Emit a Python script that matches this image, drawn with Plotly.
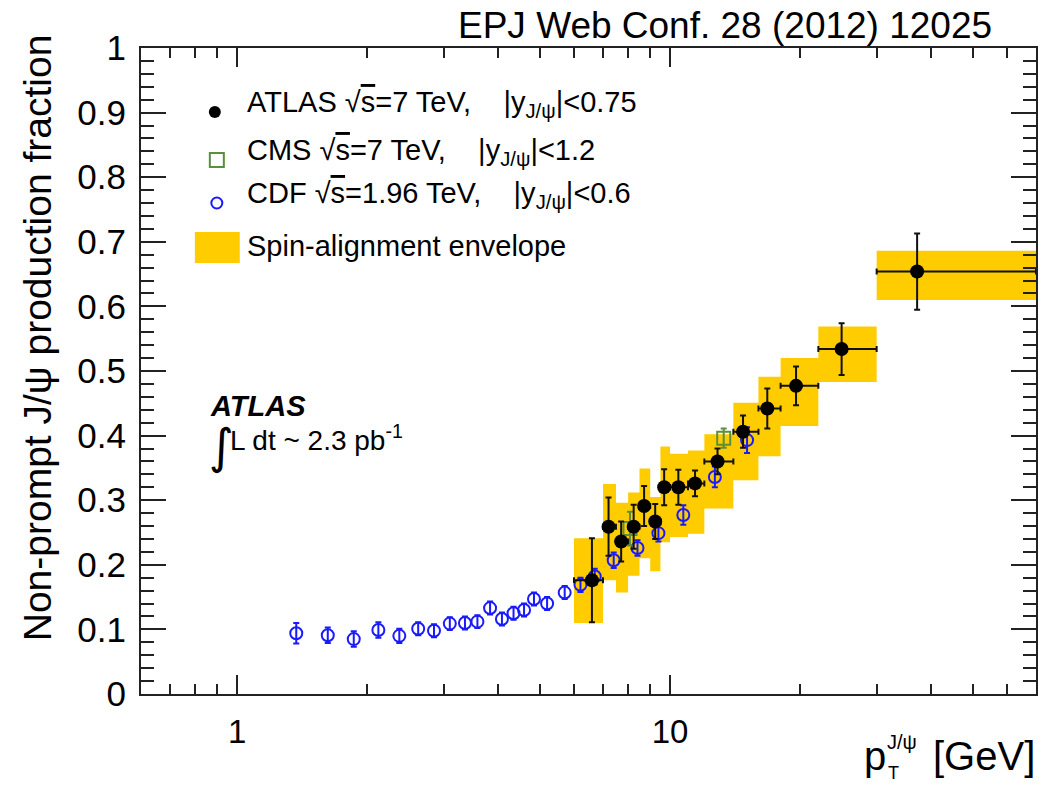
import numpy as np
import plotly.graph_objects as go

# ---------------- data ----------------
atlas_pt = [6.60, 7.21, 7.71, 8.24, 8.71, 9.24, 9.69, 10.45, 11.42, 12.87, 14.74, 16.77, 19.54, 24.9, 37.2]
atlas_bin_lo = [6, 7, 7.5, 8, 8.5, 9, 9.5, 10, 11, 12, 14, 16, 18, 22, 30]
atlas_bin_hi = [7, 7.5, 8, 8.5, 9, 9.5, 10, 11, 12, 14, 16, 18, 22, 30, 70]
atlas_frac = [0.176, 0.259, 0.236, 0.259, 0.291, 0.267, 0.320, 0.320, 0.326, 0.360, 0.406, 0.442, 0.477, 0.534, 0.654]
atlas_err = [0.065, 0.045, 0.031, 0.034, 0.031, 0.027, 0.028, 0.027, 0.020, 0.020, 0.025, 0.031, 0.030, 0.040, 0.059]
env_lo = [0.110, 0.176, 0.157, 0.183, 0.210, 0.190, 0.235, 0.243, 0.248, 0.287, 0.331, 0.368, 0.415, 0.483, 0.610]
env_hi = [0.241, 0.325, 0.296, 0.312, 0.349, 0.305, 0.383, 0.372, 0.377, 0.402, 0.451, 0.491, 0.520, 0.569, 0.686]

cms_pt = [8.08, 13.3]
cms_frac = [0.256, 0.396]
cms_err = [0.026, 0.015]

cdf_pt = [1.37, 1.62, 1.86, 2.12, 2.37, 2.62, 2.85, 3.10, 3.36, 3.59, 3.84, 4.09, 4.35, 4.60, 4.85,
          5.20, 5.71, 6.21, 6.70, 7.41, 8.41, 9.40, 10.73, 12.69, 15.06]
cdf_frac = [0.094, 0.091, 0.085, 0.099, 0.090, 0.101, 0.098, 0.109, 0.110, 0.112, 0.133, 0.116, 0.125,
            0.130, 0.147, 0.140, 0.157, 0.169, 0.182, 0.207, 0.226, 0.249, 0.277, 0.336, 0.393]
cdf_err = [0.016, 0.012, 0.012, 0.012, 0.011, 0.010, 0.010, 0.010, 0.010, 0.010, 0.010, 0.010, 0.010,
           0.010, 0.010, 0.010, 0.010, 0.011, 0.012, 0.012, 0.012, 0.013, 0.015, 0.016, 0.020]

x_major = [1, 10]
x_major_text = ["1", "10"]
x_minor = [0.7, 0.8, 0.9, 2, 3, 4, 5, 6, 7, 8, 9, 20, 30, 40, 50, 60]

# ---------------- layout geometry ----------------
W, H = 1047, 787
L, R, T, B = 141, 1038, 48, 694
FONT = "Liberation Sans, Arial, Helvetica, sans-serif"


def px(xp):
    return (xp - L) / (R - L)


def py(yp):
    return (B - yp) / (B - T)


YELLOW = "#FFCC00"
BLUE = "#1a1aff"
GREEN = "#5b8f3c"

fig = go.Figure()

# spin-alignment envelope boxes
ex, ey = [], []
for lo, hi, a, b in zip(atlas_bin_lo, atlas_bin_hi, env_lo, env_hi):
    ex += [lo, hi, hi, lo, lo, None]
    ey += [a, a, b, b, a, None]
fig.add_trace(go.Scatter(x=ex, y=ey, mode="lines", fill="toself", fillcolor=YELLOW,
                         line=dict(width=0, color=YELLOW), hoverinfo="skip", showlegend=False))

# CDF
fig.add_trace(go.Scatter(
    x=cdf_pt, y=cdf_frac, mode="markers",
    marker=dict(symbol="circle-open", size=12, color=BLUE, line=dict(width=2, color=BLUE)),
    error_y=dict(type="data", array=cdf_err, color=BLUE, thickness=2, width=3),
    showlegend=False))

# CMS
fig.add_trace(go.Scatter(
    x=cms_pt, y=cms_frac, mode="markers",
    marker=dict(symbol="square-open", size=13, color=GREEN, line=dict(width=2, color=GREEN)),
    error_y=dict(type="data", array=cms_err, color=GREEN, thickness=2, width=3),
    showlegend=False))

# ATLAS
xerr_plus = [h - p for h, p in zip(atlas_bin_hi, atlas_pt)]
xerr_minus = [p - l for l, p in zip(atlas_bin_lo, atlas_pt)]
fig.add_trace(go.Scatter(
    x=atlas_pt, y=atlas_frac, mode="markers",
    marker=dict(symbol="circle", size=14, color="black"),
    error_y=dict(type="data", array=atlas_err, color="#111", thickness=2, width=3),
    error_x=dict(type="data", array=xerr_plus, arrayminus=xerr_minus, color="#111", thickness=2, width=3),
    showlegend=False))

# legend markers on an overlay axis (0..1 paper-like)
leg_x = [px(215), px(217), px(217)]
leg_y = [py(112), py(160), py(203)]
fig.add_trace(go.Scatter(x=[leg_x[0]], y=[leg_y[0]], xaxis="x2", yaxis="y2", mode="markers",
                         marker=dict(symbol="circle", size=12, color="black"), showlegend=False))
fig.add_trace(go.Scatter(x=[leg_x[1]], y=[leg_y[1]], xaxis="x2", yaxis="y2", mode="markers",
                         marker=dict(symbol="square-open", size=14, color=GREEN, line=dict(width=2, color=GREEN)),
                         showlegend=False))
fig.add_trace(go.Scatter(x=[leg_x[2]], y=[leg_y[2]], xaxis="x2", yaxis="y2", mode="markers",
                         marker=dict(symbol="circle-open", size=11, color=BLUE, line=dict(width=2, color=BLUE)),
                         showlegend=False))

shapes = [dict(type="rect", xref="paper", yref="paper", x0=px(195), x1=px(240), y0=py(263), y1=py(232),
               fillcolor=YELLOW, line=dict(width=0), layer="above")]

NB = "\u00a0"
sq = "\u221a<span style='text-decoration:overline'>s</span>"
leg_font = dict(family=FONT, size=29, color="black")
ann = []
leg_rows = [
    (f"ATLAS {sq}=7 TeV,{NB}{NB}{NB} |y<sub>J/\u03c8</sub>|&lt;0.75", 104),
    (f"CMS {sq}=7 TeV,{NB}{NB}{NB} |y<sub>J/\u03c8</sub>|&lt;1.2", 152),
    (f"CDF {sq}=1.96 TeV,{NB}{NB}{NB} |y<sub>J/\u03c8</sub>|&lt;0.6", 195),
    ("Spin-alignment envelope", 246),
]
for txt, yc in leg_rows:
    ann.append(dict(text=txt, xref="paper", yref="paper", x=px(245), y=py(yc), xanchor="left",
                    yanchor="middle", showarrow=False, font=leg_font))

# ATLAS label
ann.append(dict(text="<b><i>ATLAS</i></b>", xref="paper", yref="paper", x=px(208), y=py(406),
                xanchor="left", yanchor="middle", showarrow=False, font=dict(family=FONT, size=29, color="black")))
ann.append(dict(text="\u222b", xref="paper", yref="paper", x=px(207), y=py(446),
                xanchor="left", yanchor="middle", showarrow=False, font=dict(family="DejaVu Sans", size=48, color="black")))
ann.append(dict(text="L dt ~ 2.3 pb<sup>-1</sup>", xref="paper", yref="paper", x=px(228), y=py(438),
                xanchor="left", yanchor="middle", showarrow=False, font=dict(family=FONT, size=28, color="black")))

# top reference text
ann.append(dict(text="EPJ Web Conf. 28 (2012) 12025", xref="paper", yref="paper", x=px(996), y=py(25),
                xanchor="right", yanchor="middle", showarrow=False, font=dict(family=FONT, size=37, color="black")))

# y title
ann.append(dict(text="Non-prompt J/\u03c8 production fraction", xref="paper", yref="paper",
                x=px(37), y=py(338), xanchor="center", yanchor="middle", textangle=-90, showarrow=False,
                font=dict(family=FONT, size=39, color="black")))

# x title: p_T^{J/psi} [GeV]
ann.append(dict(text="p", xref="paper", yref="paper", x=px(890), y=py(756), xanchor="right", yanchor="middle",
                showarrow=False, font=dict(family=FONT, size=40, color="black")))
ann.append(dict(text="J/\u03c8", xref="paper", yref="paper", x=px(887), y=py(742), xanchor="left", yanchor="middle",
                showarrow=False, font=dict(family=FONT, size=20, color="black")))
ann.append(dict(text="T", xref="paper", yref="paper", x=px(888), y=py(773), xanchor="left", yanchor="middle",
                showarrow=False, font=dict(family=FONT, size=18, color="black")))
ann.append(dict(text="[GeV]", xref="paper", yref="paper", x=px(1039), y=py(756), xanchor="right", yanchor="middle",
                showarrow=False, font=dict(family=FONT, size=40, color="black")))

AX = "#222"
fig.update_layout(
    width=W, height=H,
    margin=dict(l=L, r=W - R, t=T, b=H - B, pad=0),
    paper_bgcolor="white", plot_bgcolor="white",
    showlegend=False,
    shapes=shapes,
    annotations=ann,
    xaxis=dict(type="log", range=[np.log10(0.6), np.log10(70)],
               tickmode="array", tickvals=x_major, ticktext=x_major_text,
               ticks="inside", ticklen=19, tickwidth=2, tickcolor=AX,
               minor=dict(tickmode="array", tickvals=x_minor, ticks="inside", ticklen=10, tickwidth=2,
                          tickcolor=AX, showgrid=False),
               showline=True, linecolor=AX, linewidth=2, mirror="ticks",
               showgrid=False, zeroline=False,
               tickfont=dict(family=FONT, size=33, color="black"), ticklabelstandoff=7),
    yaxis=dict(range=[0, 1], tickmode="linear", tick0=0, dtick=0.1,
               ticks="inside", ticklen=25, tickwidth=2, tickcolor=AX,
               minor=dict(dtick=0.02, ticks="inside", ticklen=13, tickwidth=2, tickcolor=AX, showgrid=False),
               showline=True, linecolor=AX, linewidth=2, mirror="ticks",
               showgrid=False, zeroline=False,
               tickfont=dict(family=FONT, size=35, color="black"), ticklabelstandoff=6),
    xaxis2=dict(range=[0, 1], overlaying="x", visible=False, fixedrange=True),
    yaxis2=dict(range=[0, 1], overlaying="y", visible=False, fixedrange=True),
)

fig.write_html("out.html")
